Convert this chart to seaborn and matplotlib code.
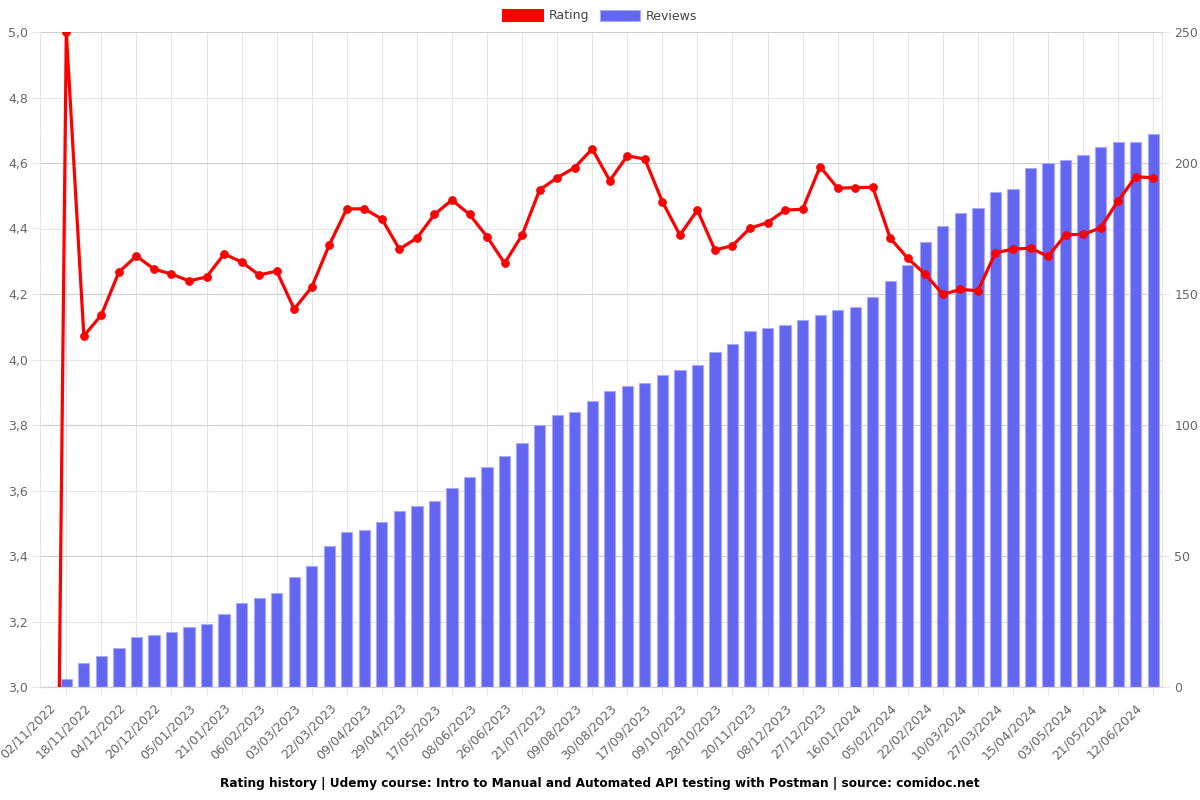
import numpy as np
import pandas as pd
import matplotlib
matplotlib.use("Agg")
import matplotlib.pyplot as plt
from matplotlib.patches import Patch
from matplotlib.ticker import FixedLocator, FuncFormatter, MultipleLocator
import seaborn as sns

# ---------------- data ----------------
tick_labels = [
    "02/11/2022", "18/11/2022", "04/12/2022", "20/12/2022", "05/01/2023", "21/01/2023",
    "06/02/2023", "03/03/2023", "22/03/2023", "09/04/2023", "29/04/2023", "17/05/2023",
    "08/06/2023", "26/06/2023", "21/07/2023", "09/08/2023", "30/08/2023", "17/09/2023",
    "09/10/2023", "28/10/2023", "20/11/2023", "08/12/2023", "27/12/2023", "16/01/2024",
    "05/02/2024", "22/02/2024", "10/03/2024", "27/03/2024", "15/04/2024", "03/05/2024",
    "21/05/2024", "12/06/2024",
]

rating = [
    0.0, 5.0, 4.072, 4.136, 4.267, 4.316, 4.276, 4.261, 4.240, 4.252,
    4.322, 4.298, 4.258, 4.270, 4.154, 4.221, 4.350, 4.460, 4.460, 4.429,
    4.337, 4.371, 4.443, 4.487, 4.443, 4.375, 4.294, 4.380, 4.518, 4.555,
    4.586, 4.643, 4.546, 4.622, 4.612, 4.482, 4.380, 4.456, 4.334, 4.348,
    4.401, 4.418, 4.456, 4.459, 4.589, 4.523, 4.525, 4.526, 4.370, 4.309,
    4.260, 4.199, 4.214, 4.210, 4.326, 4.337, 4.340, 4.315, 4.381, 4.382,
    4.402, 4.485, 4.558, 4.555,
]

reviews = [
    0, 3, 9, 12, 15, 19, 20, 21, 23, 24,
    28, 32, 34, 36, 42, 46, 54, 59, 60, 63,
    67, 69, 71, 76, 80, 84, 88, 93, 100, 104,
    105, 109, 113, 115, 116, 119, 121, 123, 128, 131,
    136, 137, 138, 140, 142, 144, 145, 149, 155, 161,
    170, 176, 181, 183, 189, 190, 198, 200, 201, 203,
    206, 208, 208, 211,
]

title = ("Rating history | Udemy course: Intro to Manual and Automated API testing "
         "with Postman | source: comidoc.net")

# ---------------- style ----------------
sns.set_theme(style="white")
plt.rcParams["font.family"] = ["DejaVu Sans"]

RED = "#ff0000"
BLUE = "#6366f1"
GRID = "#e6e6e6"
GRID2 = "#cfcfcf"
AXIS = "#d2d2d2"
TICKC = "#666666"

idx = np.arange(len(rating))
df = pd.DataFrame({"idx": idx, "rating": rating, "reviews": reviews})

fig = plt.figure(figsize=(12, 8), dpi=100)
fig.subplots_adjust(left=40 / 1200, right=1162 / 1200, top=1 - 32 / 800, bottom=1 - 687 / 800)
ax = fig.add_subplot(111)
ax2 = ax.twinx()

# bars (reviews) on main axes, ticks on the right
sns.barplot(data=df, x="idx", y="reviews", ax=ax, color=BLUE, saturation=1,
            width=0.64, edgecolor="#a9abf8", linewidth=0.8, zorder=2)
ax.set_xlim(-0.5, len(idx) - 0.5)
ax.set_ylim(0, 250)
ax.yaxis.tick_right()
ax.yaxis.set_label_position("right")
ax.yaxis.set_major_locator(MultipleLocator(50))
ax.yaxis.set_minor_locator(MultipleLocator(25))
ax.set_xlabel("")
ax.set_ylabel("")

# x ticks: labels on even points, grid/tick marks on odd points
ax.xaxis.set_major_locator(FixedLocator(list(range(0, len(idx), 2))))
ax.set_xticklabels(tick_labels, rotation=45, ha="right", va="top",
                   rotation_mode="anchor", color=TICKC, fontsize=9)
ax.xaxis.set_minor_locator(FixedLocator(list(range(1, len(idx), 2))))
ax.tick_params(axis="x", which="major", length=0, pad=10.5)
ax.tick_params(axis="x", which="minor", length=5.8, width=0.8, color=GRID, bottom=True)
ax.tick_params(axis="y", which="major", length=5.8, width=0.8, color=GRID,
               labelcolor=TICKC, labelsize=9, pad=3, right=True, left=False,
               labelright=True, labelleft=False)
ax.tick_params(axis="y", which="minor", length=0, right=False, left=False)

ax.grid(False)
ax.grid(True, axis="x", which="minor", color=GRID, linewidth=0.8, alpha=1)
ax.grid(True, axis="y", which="major", color=GRID2, linewidth=0.8, alpha=1)
ax.grid(True, axis="y", which="minor", color=GRID, linewidth=0.8, alpha=1)
ax.set_axisbelow(True)
for side in ["left", "right"]:
    ax.spines[side].set_visible(True)
    ax.spines[side].set_color(GRID)
    ax.spines[side].set_linewidth(0.8)
ax.spines["bottom"].set_visible(True)
ax.spines["bottom"].set_color(AXIS)
ax.spines["bottom"].set_linewidth(0.9)
ax.spines["top"].set_visible(False)

# line (rating) on twin axes, ticks on the left
sns.lineplot(data=df, x="idx", y="rating", ax=ax2, color=RED, linewidth=2.3,
             marker="o", markersize=5.5, markeredgecolor=RED, markerfacecolor=RED,
             zorder=5)
ax2.set_ylim(3.0, 5.0)
ax2.yaxis.tick_left()
ax2.yaxis.set_label_position("left")
ax2.yaxis.set_major_locator(MultipleLocator(0.2))
ax2.yaxis.set_major_formatter(FuncFormatter(lambda v, p: f"{v:.1f}".replace(".", ",")))
ax2.tick_params(axis="y", length=5.8, width=0.8, color=GRID, labelcolor=TICKC,
                labelsize=9, pad=3, left=True, right=False, labelleft=True,
                labelright=False)
ax2.grid(False)
ax2.set_ylabel("")
ax2.set_xlabel("")
for s in ax2.spines.values():
    s.set_visible(False)
if ax2.get_legend():
    ax2.get_legend().remove()

# legend
handles = [Patch(facecolor=RED, edgecolor=RED, linewidth=1.5),
           Patch(facecolor=BLUE, edgecolor="#a9abf8", linewidth=0.8)]
fig.legend(handles, ["Rating", "Reviews"], loc="center", bbox_to_anchor=(0.5, 1 - 16 / 800),
           ncol=2, frameon=False, fontsize=9, handlelength=3.2, handleheight=1.0,
           handletextpad=0.45, columnspacing=0.9, labelcolor="#444444")

# title at the bottom
fig.text(0.5, 1 - 783 / 800, title, ha="center", va="center", fontsize=8.75,
         fontweight="bold", color="black")

fig.savefig("out.png", dpi=100)
